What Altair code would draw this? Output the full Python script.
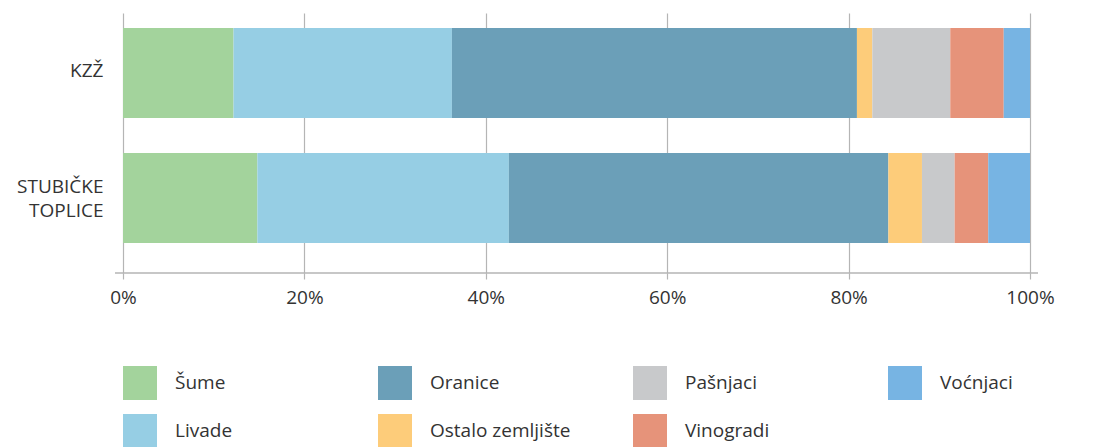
import altair as alt
import pandas as pd

regions = ["KZŽ", "STUBIČKE TOPLICE"]
categories = ["Šume", "Livade", "Oranice", "Ostalo zemljište", "Pašnjaci", "Vinogradi", "Voćnjaci"]
colors = ["#a3d39c", "#96cee4", "#6b9fb8", "#fdcc7a", "#c8c9cb", "#e6937a", "#77b4e3"]
kzz = [12.2, 24.1, 44.7, 1.7, 8.6, 5.9, 2.9]
stubicke = [14.8, 27.7, 41.8, 3.7, 3.6, 3.7, 4.6]
x_ticks = [0, 0.2, 0.4, 0.6, 0.8, 1.0]

rows = []
for region, vals in zip(regions, [kzz, stubicke]):
    for i, (c, v) in enumerate(zip(categories, vals)):
        rows.append({"region": region, "cat": c, "idx": i, "value": v})
df = pd.DataFrame(rows)

FONT = "Open Sans"
FS = 19

bars = alt.Chart(df).mark_bar().encode(
    y=alt.Y("region:N", sort=regions, title=None,
            scale=alt.Scale(paddingInner=0.28, paddingOuter=0.18, align=0.333),
            axis=alt.Axis(domain=False, ticks=False, labelPadding=20, labelFontSize=FS,
                          labelColor="#333333", labelFont=FONT, labelLineHeight=24,
                          labelOffset={"condition": {"test": "indexof(datum.value, ' ') >= 0", "value": -11},
                                       "value": -2},
                          labelExpr="split(datum.label, ' ')")),
    x=alt.X("value:Q", stack="normalize", title=None,
            scale=alt.Scale(domain=[0, 1], nice=False),
            axis=alt.Axis(values=x_ticks, format=".0%", grid=True, gridColor="#b5b5b5",
                          gridWidth=1.2, domain=False, ticks=True, tickColor="#b5b5b5",
                          tickSize=6, tickWidth=1.2, labelPadding=9, labelFontSize=FS,
                          labelColor="#333333", labelFont=FONT, labelFlush=False)),
    color=alt.Color("cat:N", title=None,
                    scale=alt.Scale(domain=categories, range=colors),
                    legend=alt.Legend(orient="none", legendX=0, legendY=353, columns=4,
                                      symbolType="square", symbolSize=1156, symbolStrokeWidth=0,
                                      labelFontSize=FS, labelColor="#333333", labelFont=FONT,
                                      labelOffset=18, rowPadding=14, columnPadding=62,
                                      gridAlign="all", padding=0, labelLimit=300)),
    order=alt.Order("idx:Q", sort="ascending"),
)

axis_line = alt.Chart(pd.DataFrame({"a": [0]})).mark_rule(color="#b5b5b5", strokeWidth=1.5).encode(
    x=alt.value(-8), x2=alt.value(915), y=alt.value(260)
)

chart = alt.layer(bars, axis_line).properties(
    width=907, height=260,
    autosize=alt.AutoSizeParams(type="none"),
    padding={"left": 115, "top": 5, "right": 60, "bottom": 180},
).configure_view(stroke=None)

chart.save("out.html", embed_options={"renderer": "svg", "actions": False})
